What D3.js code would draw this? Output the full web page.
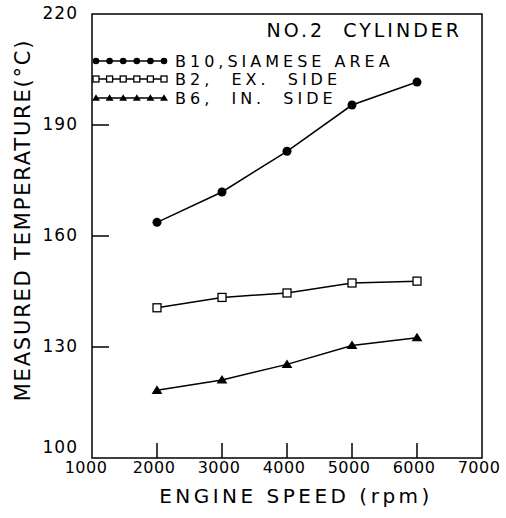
<!DOCTYPE html>
<html>
<head>
<meta charset="utf-8">
<script src="https://cdn.jsdelivr.net/npm/d3@7"></script>
<style>
  body { margin: 0; background: #fff; }
  text { font-family: "DejaVu Sans", sans-serif; fill: #000; }
</style>
</head>
<body>
<div id="chart"></div>
<script>
// engine speed (rpm)
const speeds = [2000, 3000, 4000, 5000, 6000];
// measured temperature (°C)
const b10Siamese = [163.7, 171.9, 182.9, 195.4, 201.6];
const b2ExSide = [140.6, 143.4, 144.6, 147.3, 147.8];
const b6InSide = [118.3, 121.1, 125.3, 130.4, 132.5];

const xTicks = [1000, 2000, 3000, 4000, 5000, 6000, 7000];
const yTicks = [100, 130, 160, 190, 220];

const seriesNames = ["B10,SIAMESE AREA", "B2,  EX.  SIDE", "B6,  IN.  SIDE"];
const seriesValues = [b10Siamese, b2ExSide, b6InSide];
const seriesMarkers = ["circle", "square", "triangle"];

const margin = { top: 14, right: 24, bottom: 60, left: 92 };
const width = 506 - margin.left - margin.right;
const height = 518 - margin.top - margin.bottom;

const svg = d3.select("#chart").append("svg")
    .attr("width", 506)
    .attr("height", 518);

const g = svg.append("g")
    .attr("transform", `translate(${margin.left},${margin.top})`);

const x = d3.scaleLinear().domain([1000, 7000]).range([0, width]);
const y = d3.scaleLinear().domain([100, 220]).range([height, 0]);

// frame
g.append("rect")
    .attr("width", width)
    .attr("height", height)
    .attr("fill", "none")
    .attr("stroke", "#000")
    .attr("stroke-width", 1.5);

// inward ticks
g.selectAll(".xtick")
    .data(xTicks.slice(1, -1))
    .enter().append("line")
    .attr("x1", d => x(d)).attr("x2", d => x(d))
    .attr("y1", height).attr("y2", height - 15)
    .attr("stroke", "#000").attr("stroke-width", 1.5);

g.selectAll(".ytick")
    .data(yTicks.slice(1, -1))
    .enter().append("line")
    .attr("x1", 0).attr("x2", 17)
    .attr("y1", d => y(d)).attr("y2", d => y(d))
    .attr("stroke", "#000").attr("stroke-width", 1.5);

// tick labels
g.selectAll(".xlabel")
    .data(xTicks)
    .enter().append("text")
    .attr("x", d => x(d) - (d === 1000 ? 6 : 3))
    .attr("y", height + 15)
    .attr("text-anchor", "middle")
    .style("font-size", "16px")
    .style("letter-spacing", "0.5px")
    .text(d => d);

g.selectAll(".ylabel")
    .data(yTicks)
    .enter().append("text")
    .attr("x", -14)
    .attr("y", d => y(d) + (d === 100 ? -5 : 5))
    .attr("text-anchor", "end")
    .style("font-size", "17px")
    .style("letter-spacing", "1px")
    .text(d => d);

// axis titles
svg.append("text")
    .attr("x", 296)
    .attr("y", 503)
    .attr("text-anchor", "middle")
    .style("font-size", "20px")
    .style("letter-spacing", "3.5px")
    .text("ENGINE SPEED (rpm)");

svg.append("text")
    .attr("transform", "translate(30,220) rotate(-90)")
    .attr("text-anchor", "middle")
    .style("font-size", "21px")
    .style("letter-spacing", "1.8px")
    .text("MEASURED TEMPERATURE(°C)");

// chart title
g.append("text")
    .attr("x", width - 20)
    .attr("y", 23)
    .attr("text-anchor", "end")
    .style("font-size", "19px")
    .style("letter-spacing", "3px")
    .style("white-space", "pre")
    .text("NO.2  CYLINDER");

function drawMarker(sel, type, size) {
    if (type === "circle") {
        sel.append("circle").attr("r", size).attr("fill", "#000");
    } else if (type === "square") {
        sel.append("rect")
            .attr("x", -size).attr("y", -size)
            .attr("width", size * 2).attr("height", size * 2)
            .attr("fill", "#fff").attr("stroke", "#000").attr("stroke-width", 1.3);
    } else {
        sel.append("path")
            .attr("d", `M0,${-size * 1.1}L${size * 1.2},${size * 0.8}L${-size * 1.2},${size * 0.8}Z`)
            .attr("fill", "#000");
    }
}

const line = d3.line()
    .x((d, i) => x(speeds[i]))
    .y(d => y(d));

seriesValues.forEach((vals, s) => {
    g.append("path")
        .datum(vals)
        .attr("d", line)
        .attr("fill", "none")
        .attr("stroke", "#000")
        .attr("stroke-width", 1.5);

    vals.forEach((v, i) => {
        const m = g.append("g").attr("transform", `translate(${x(speeds[i])},${y(v)})`);
        drawMarker(m, seriesMarkers[s], seriesMarkers[s] === "square" ? 4 : 4.5);
    });
});

// legend
const legendY = [47, 65, 84];
seriesNames.forEach((name, s) => {
    const lg = g.append("g").attr("transform", `translate(0,${legendY[s]})`);
    lg.append("line")
        .attr("x1", 4).attr("x2", 72)
        .attr("stroke", "#000").attr("stroke-width", 1.5);
    d3.range(6).forEach(k => {
        const m = lg.append("g").attr("transform", `translate(${4 + k * 13.6},0)`);
        drawMarker(m, seriesMarkers[s], seriesMarkers[s] === "square" ? 3 : 3.3);
    });
    lg.append("text")
        .attr("x", 83)
        .attr("y", 6)
        .style("font-size", "16px")
        .style("letter-spacing", "4px")
        .style("white-space", "pre")
        .text(name);
});
</script>
</body>
</html>
